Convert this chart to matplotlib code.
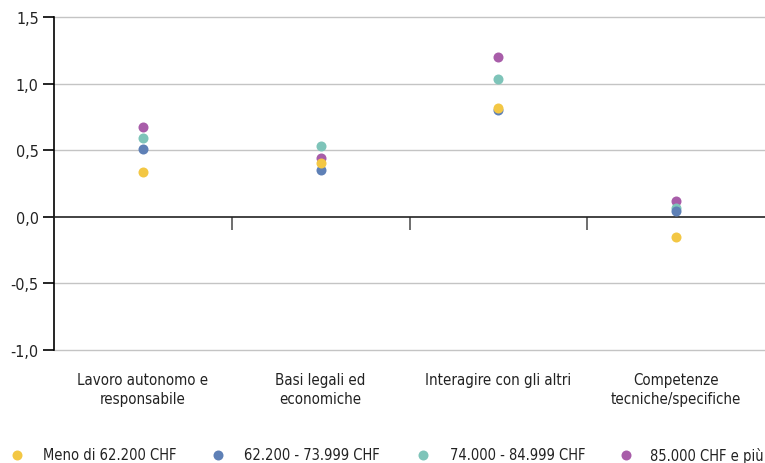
import matplotlib
matplotlib.use("Agg")
import matplotlib.pyplot as plt
from matplotlib.lines import Line2D
from matplotlib.ticker import FixedLocator, FuncFormatter

plt.rcParams['font.family'] = ['DejaVu Sans']
plt.rcParams['font.stretch'] = 'condensed'

categories = ["Lavoro autonomo e\nresponsabile", "Basi legali ed\neconomiche",
              "Interagire con gli altri", "Competenze\ntecniche/specifiche"]
series_names = ["Meno di 62.200 CHF", "62.200 - 73.999 CHF",
                "74.000 - 84.999 CHF", "85.000 CHF e più"]
meno_62200 = [0.334, 0.406, 0.815, -0.150]
r62200_73999 = [0.507, 0.351, 0.805, 0.045]
r74000_84999 = [0.592, 0.534, 1.035, 0.065]
r85000_piu = [0.677, 0.439, 1.198, 0.120]
colors = ["#F3C744", "#5E80B6", "#7EC4B9", "#A85DA9"]
yticks = [-1.0, -0.5, 0.0, 0.5, 1.0, 1.5]

series = [meno_62200, r62200_73999, r74000_84999, r85000_piu]
zorders = [6, 5, 4, 3]

W, H = 765, 464
fig = plt.figure(figsize=(W/100, H/100), dpi=100)
ax = fig.add_axes([54/W, 1-350.7/H, 1-54/W, (350.7-18.3)/H])

x = list(range(len(categories)))
for vals, c, z, name in zip(series, colors, zorders, series_names):
    ax.scatter(x, vals, s=52, color=c, zorder=z, linewidths=0, label=name, clip_on=False)

ax.set_xlim(-0.5, 3.5)
ax.set_ylim(-1.0, 1.5)
ax.set_yticks(yticks)
ax.yaxis.set_major_formatter(FuncFormatter(lambda v, p: f"{v:.1f}".replace(".", ",")))
for v in yticks:
    if v != 0:
        ax.axhline(v, color="#c4c4c4", lw=1.0, zorder=0, clip_on=False)

for s in ["top", "right"]:
    ax.spines[s].set_visible(False)
ax.spines["left"].set_color("black")
ax.spines["left"].set_linewidth(1.2)
ax.spines["bottom"].set_position(("data", 0))
ax.spines["bottom"].set_color("#222222")
ax.spines["bottom"].set_linewidth(1.2)

ax.set_xticks(x)
ax.set_xticklabels(categories, linespacing=1.3)
ax.xaxis.set_minor_locator(FixedLocator([0.5, 1.5, 2.5]))
ax.tick_params(axis="x", which="major", length=0, pad=112, labelsize=10.8, labelcolor="#222222")
ax.tick_params(axis="x", which="minor", length=9, width=1.2, color="#555555", direction="out")
ax.tick_params(axis="y", length=8, width=1.2, color="black", labelsize=11.5, labelcolor="#222222", pad=3)

# legend, laid out manually to match the reference spacing
leg_y = 1 - 456/H
marker_x = [17, 218, 423, 626]
text_x = [43, 244, 450, 650]
for mx, tx, c, name in zip(marker_x, text_x, colors, series_names):
    fig.add_artist(Line2D([mx/W], [leg_y], marker="o", linestyle="none", markersize=7.2,
                          markerfacecolor=c, markeredgewidth=0, transform=fig.transFigure))
    fig.text(tx/W, leg_y, name, ha="left", va="center", fontsize=10.5, color="#222222")

fig.savefig("out.png", dpi=100)
